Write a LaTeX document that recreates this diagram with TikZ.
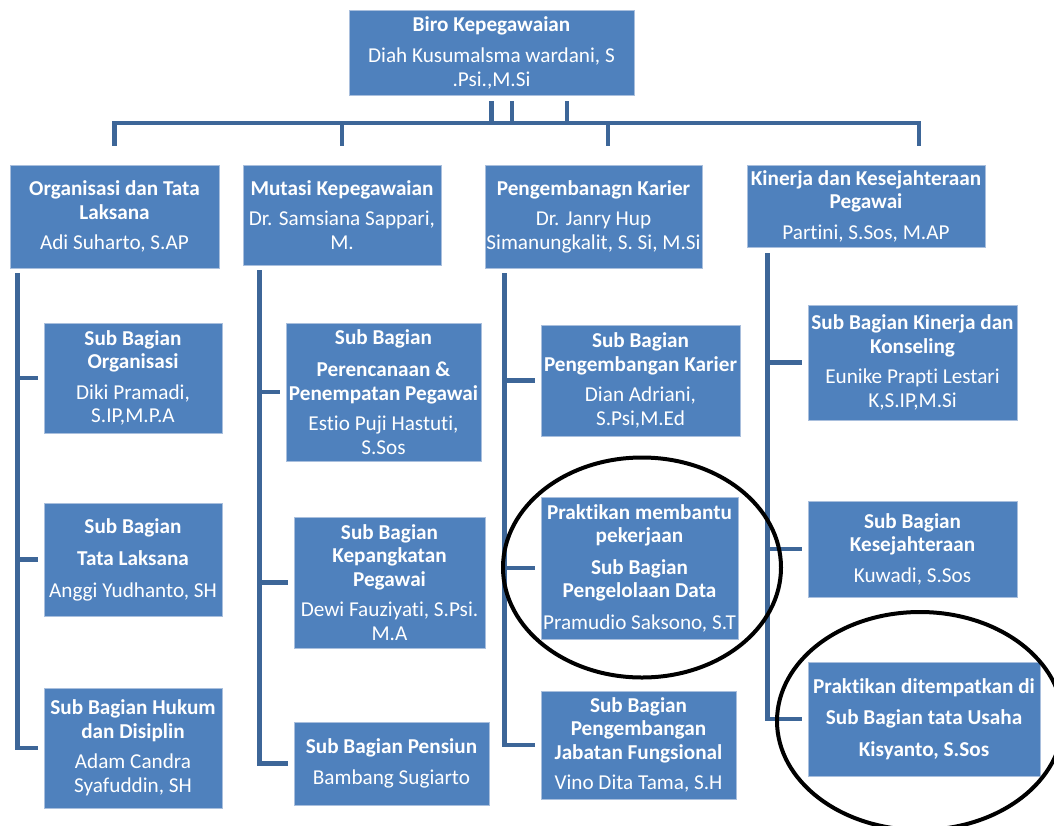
\documentclass[tikz,border=0pt]{standalone}
\usepackage{fontspec}
\setmainfont[RawFeature={-liga;-clig;-calt;-dlig;-rlig}]{Carlito}
\definecolor{boxblue}{HTML}{4F81BD}
\definecolor{boxedge}{HTML}{A9BFDD}
\definecolor{lineblue}{HTML}{3D6698}

% unit box: name, left, top, right, bottom, text
\newcommand\unitbox[6]{%
  \node[unit, minimum width={#4pt-#2pt}, minimum height={#5pt-#3pt}]
    (#1) at ({(#2+#4)/2},{(#3+#5)/2}) {#6};}

\begin{document}
\begin{tikzpicture}[x=1pt, y=-1pt,
  unit/.style={fill=boxblue, draw=boxedge, line width=0.8pt, text=white,
    inner sep=0pt, align=center, font=\fontsize{21.2}{23.5}\selectfont},
  conn/.style={draw=lineblue, line width=4.5pt, line join=miter},
  ring/.style={draw=black, line width=4pt}]
\useasboundingbox (0,0) rectangle (1054,825);

% head of the bureau
\unitbox{biro}{349}{10}{634}{95}{\textbf{Biro Kepegawaian}\\[8pt]Diah Kusumalsma wardani, S\\.Psi.,M.Si}

% divisions
\unitbox{org}{10}{165}{219}{268}{\textbf{Organisasi dan Tata}\\\textbf{Laksana}\\[7pt]Adi Suharto, S.AP}
\unitbox{mut}{243}{165}{441}{265}{\textbf{Mutasi Kepegawaian}\\[7pt]Dr. Samsiana Sappari,\\M.}
\unitbox{peng}{485}{165}{702}{268}{\textbf{Pengembanagn Karier}\\[7pt]Dr. Janry Hup\\Simanungkalit, S. Si, M.Si}
\unitbox{kin}{747}{165}{985}{247}{\textbf{Kinerja dan Kesejahteraan}\\\textbf{Pegawai}\\[7pt]Partini, S.Sos, M.AP}

% sub-divisions: Organisasi dan Tata Laksana
\unitbox{sorg}{44}{323}{222}{433}{\textbf{Sub Bagian}\\\textbf{Organisasi}\\[7pt]Diki Pramadi,\\S.IP,M.P.A}
\unitbox{stl}{44}{503}{222}{616}{\textbf{Sub Bagian}\\[9pt]\textbf{Tata Laksana}\\[8pt]Anggi Yudhanto, SH}
\unitbox{shuk}{44}{688}{222}{808}{\textbf{Sub Bagian Hukum}\\\textbf{dan Disiplin}\\[7pt]Adam Candra\\Syafuddin, SH}

% sub-divisions: Mutasi Kepegawaian
\unitbox{sren}{286}{323}{481}{461}{\textbf{Sub Bagian}\\[9pt]\textbf{Perencanaan \&}\\\textbf{Penempatan Pegawai}\\[7pt]Estio Puji Hastuti,\\S.Sos}
\unitbox{skep}{294}{517}{485}{648}{\textbf{Sub Bagian}\\\textbf{Kepangkatan}\\\textbf{Pegawai}\\[7pt]Dewi Fauziyati, S.Psi.\\M.A}
\unitbox{spen}{294}{722}{489}{805}{\textbf{Sub Bagian Pensiun}\\[7pt]Bambang Sugiarto}

% sub-divisions: Pengembangan Karier
\unitbox{spk}{541}{325}{740}{436}{\textbf{Sub Bagian}\\\textbf{Pengembangan Karier}\\[7pt]Dian Adriani,\\S.Psi,M.Ed}
\unitbox{sdata}{541}{497}{738}{639}{\textbf{Praktikan membantu}\\\textbf{pekerjaan}\\[8pt]\textbf{Sub Bagian}\\\textbf{Pengelolaan Data}\\[8pt]Pramudio Saksono, S.T}
\unitbox{sjab}{541}{691}{736}{799}{\textbf{Sub Bagian}\\\textbf{Pengembangan}\\\textbf{Jabatan Fungsional}\\[7pt]Vino Dita Tama, S.H}

% sub-divisions: Kinerja dan Kesejahteraan Pegawai
\unitbox{skon}{808}{305}{1017}{420}{\textbf{Sub Bagian Kinerja dan}\\\textbf{Konseling}\\[7pt]Eunike Prapti Lestari\\K,S.IP,M.Si}
\unitbox{skes}{808}{501}{1017}{597}{\textbf{Sub Bagian}\\\textbf{Kesejahteraan}\\[7pt]Kuwadi, S.Sos}
\unitbox{stu}{808}{662}{1040}{776}{\textbf{Praktikan ditempatkan di}\\[8pt]\textbf{Sub Bagian tata Usaha}\\[8pt]\textbf{Kisyanto, S.Sos}}

% bus from the head to the divisions
\coordinate (bar) at (0,123);
\draw[conn] ([yshift=-6pt]biro.south) -- (biro.south |- bar);
\draw[conn] ([xshift=20.5pt,yshift=-6pt]biro.south) -- ([xshift=20.5pt]biro.south |- bar);
\draw[conn] ([xshift=75.5pt,yshift=-6pt]biro.south) -- ([xshift=75.5pt]biro.south |- bar);
\draw[conn] ([yshift=19pt]org.north) -- (org.north |- bar)
  -- ([xshift=53pt]kin.north |- bar) -- ([xshift=53pt,yshift=19pt]kin.north);
\draw[conn] (mut.north |- bar) -- ([yshift=19pt]mut.north);
\draw[conn] ([xshift=14.5pt]peng.north |- bar) -- ([xshift=14.5pt,yshift=19pt]peng.north);

% trunks from each division to its sub-divisions
\coordinate (orgT) at ([xshift=8pt,yshift=-5pt]org.south west);
\draw[conn] (orgT) |- ([xshift=-6pt]shuk.west);
\draw[conn] (orgT |- sorg.west) -- ([xshift=-6pt]sorg.west);
\draw[conn] (orgT |- stl.west) -- ([xshift=-6pt]stl.west);

\coordinate (mutT) at ([xshift=17pt,yshift=-5pt]mut.south west);
\draw[conn] (mutT) |- ([xshift=-6pt]spen.west);
\draw[conn] (mutT |- sren.west) -- ([xshift=-6pt]sren.west);
\draw[conn] (mutT |- skep.west) -- ([xshift=-6pt]skep.west);

\coordinate (pengT) at ([xshift=20pt,yshift=-5pt]peng.south west);
\draw[conn] (pengT) |- ([xshift=-6pt]sjab.west);
\draw[conn] (pengT |- spk.west) -- ([xshift=-6pt]spk.west);
\draw[conn] (pengT |- sdata.west) -- ([xshift=-6pt]sdata.west);

\coordinate (kinT) at ([xshift=21pt,yshift=-6pt]kin.south west);
\draw[conn] (kinT) |- ([xshift=-6pt]stu.west);
\draw[conn] (kinT |- skon.west) -- ([xshift=-6pt]skon.west);
\draw[conn] (kinT |- skes.west) -- ([xshift=-6pt]skes.west);

% hand-drawn rings around the internship placements
\draw[ring] (642,567.5) ellipse [x radius=139pt, y radius=110pt];
\draw[ring] (920,721) ellipse [x radius=143pt, y radius=109pt];
\end{tikzpicture}
\end{document}
